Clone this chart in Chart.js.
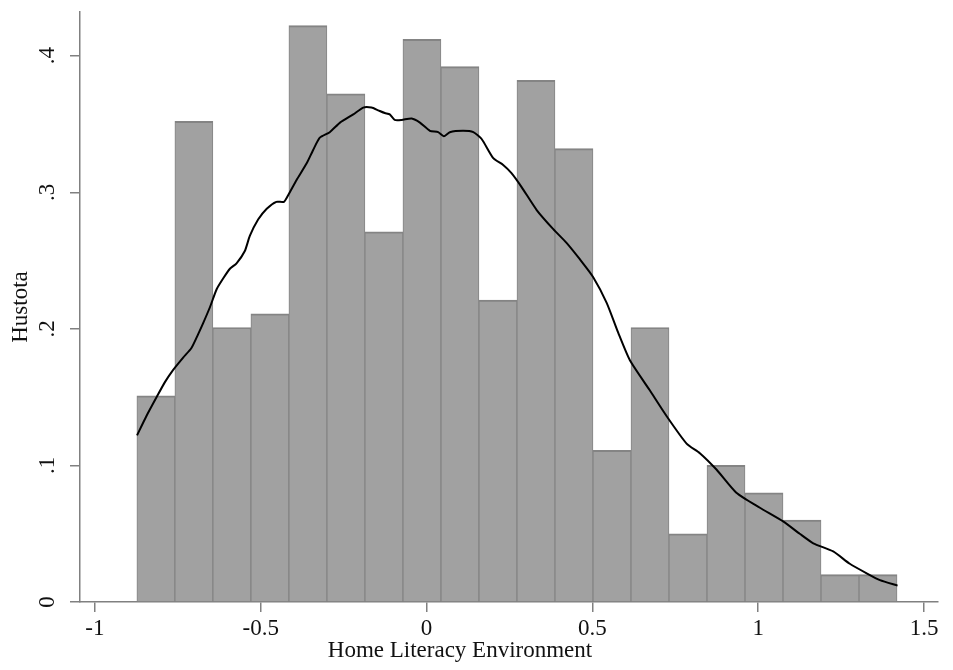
<!DOCTYPE html>
<html>
<head>
<meta charset="utf-8">
<script src="https://cdn.jsdelivr.net/npm/chart.js"></script>
<style>
  body { margin: 0; background: #fff; }
</style>
</head>
<body>
<canvas id="myChart" width="953" height="670"></canvas>
<script>
// histogram: bin midpoints and density heights
var binMids = [-0.8162, -0.7016, -0.5870, -0.4724, -0.3578, -0.2432, -0.1286, -0.0140, 0.1006, 0.2152,
               0.3298, 0.4444, 0.5590, 0.6736, 0.7882, 0.9028, 1.0174, 1.1320, 1.2466, 1.3612];
var density = [0.151, 0.352, 0.201, 0.211, 0.422, 0.372, 0.271, 0.412, 0.392, 0.221,
               0.382, 0.332, 0.111, 0.201, 0.050, 0.100, 0.080, 0.060, 0.020, 0.020];

// kernel density estimate
var kdeX = [-0.873, -0.845, -0.814, -0.789, -0.764, -0.734, -0.709, -0.689, -0.674, -0.653,
            -0.633, -0.613, -0.593, -0.573, -0.548, -0.533, -0.508, -0.482, -0.453, -0.430,
            -0.417, -0.392, -0.362, -0.342, -0.322, -0.292, -0.261, -0.221, -0.191, -0.166,
            -0.146, -0.126, -0.111, -0.096, -0.075, -0.045, -0.020, 0.010, 0.035, 0.052,
            0.070, 0.110, 0.141, 0.166, 0.201, 0.231, 0.256, 0.286, 0.332, 0.382,
            0.422, 0.462, 0.502, 0.543, 0.578, 0.613, 0.673, 0.724, 0.784, 0.824,
            0.874, 0.934, 1.005, 1.075, 1.125, 1.166, 1.226, 1.276, 1.327, 1.367, 1.420];
var kdeY = [0.122, 0.136, 0.150, 0.161, 0.170, 0.179, 0.186, 0.196, 0.204, 0.216,
            0.229, 0.237, 0.244, 0.248, 0.257, 0.268, 0.280, 0.288, 0.293, 0.293,
            0.298, 0.309, 0.321, 0.331, 0.340, 0.344, 0.351, 0.357, 0.362, 0.362,
            0.360, 0.358, 0.357, 0.353, 0.353, 0.354, 0.351, 0.345, 0.344, 0.341,
            0.344, 0.345, 0.344, 0.339, 0.325, 0.320, 0.314, 0.304, 0.287, 0.273,
            0.263, 0.251, 0.238, 0.219, 0.197, 0.177, 0.155, 0.136, 0.116, 0.109,
            0.097, 0.080, 0.069, 0.059, 0.050, 0.043, 0.037, 0.028, 0.021, 0.016, 0.012];

var xTicks = [-1, -0.5, 0, 0.5, 1, 1.5];
var xTickLabels = ['-1', '-0.5', '0', '0.5', '1', '1.5'];
var yTicks = [0, 0.1, 0.2, 0.3, 0.4];
var yTickLabels = ['0', '.1', '.2', '.3', '.4'];

var serif = '"Liberation Serif", "Times New Roman", serif';
var axisGray = '#808080';

// x title sits left of the plot centre, so it is drawn by hand
var xTitlePlugin = {
  id: 'xTitle',
  afterDraw: function(chart) {
    var ctx = chart.ctx;
    ctx.save();
    ctx.font = '23px ' + serif;
    ctx.fillStyle = '#111';
    ctx.textAlign = 'center';
    ctx.textBaseline = 'alphabetic';
    ctx.fillText('Home Literacy Environment', 460, 657);
    ctx.restore();
  }
};

window.onload = function() {
  var ctx = document.getElementById('myChart').getContext('2d');
  new Chart(ctx, {
    type: 'bar',
    data: {
      datasets: [
        {
          type: 'line',
          label: 'kdensity',
          data: kdeX.map(function(x, i) { return {x: x, y: kdeY[i]}; }),
          borderColor: '#000',
          borderWidth: 2,
          pointRadius: 0,
          tension: 0.2,
          fill: false,
          order: 0
        },
        {
          label: 'Hustota',
          data: binMids.map(function(x, i) { return {x: x, y: density[i]}; }),
          backgroundColor: '#a1a1a1',
          borderColor: '#848484',
          borderWidth: {top: 2, left: 1, right: 1, bottom: 0},
          borderSkipped: false,
          barPercentage: 1,
          categoryPercentage: 1,
          order: 1
        }
      ]
    },
    options: {
      responsive: false,
      animation: false,
      devicePixelRatio: 1,
      layout: { padding: {top: 12, right: 15, left: 0, bottom: 0} },
      plugins: {
        legend: { display: false },
        tooltip: { enabled: false }
      },
      scales: {
        x: {
          type: 'linear',
          offset: false,
          min: -1.045,
          max: 1.542,
          afterFit: function(s) { s.height = 68; },
          afterBuildTicks: function(s) { s.ticks = xTicks.map(function(v) { return {value: v}; }); },
          border: { display: true, color: axisGray, width: 1.5 },
          grid: { display: true, offset: false, drawOnChartArea: false, drawTicks: true, tickLength: 10, color: axisGray, lineWidth: 1.5 },
          ticks: {
            padding: 3,
            color: '#111',
            font: { family: serif, size: 23 },
            maxRotation: 0,
            autoSkip: false,
            callback: function(v, i) { return xTickLabels[i]; }
          },
          title: { display: false }
        },
        y: {
          min: 0,
          max: 0.432,
          afterFit: function(s) {
            s.width = 80;
            s.paddingTop = 0;
            s.paddingBottom = 0;
          },
          afterBuildTicks: function(s) { s.ticks = yTicks.map(function(v) { return {value: v}; }); },
          border: { display: true, color: axisGray, width: 1.5 },
          grid: { display: true, drawOnChartArea: false, drawTicks: true, tickLength: 10, color: axisGray, lineWidth: 1.5 },
          ticks: {
            padding: 13,
            minRotation: 90,
            maxRotation: 90,
            crossAlign: 'center',
            color: '#111',
            font: { family: serif, size: 23 },
            autoSkip: false,
            callback: function(v, i) { return yTickLabels[i]; }
          },
          title: {
            display: true,
            text: 'Hustota',
            color: '#111',
            font: { family: serif, size: 23 },
            padding: { top: 7, bottom: 0 }
          }
        }
      }
    },
    plugins: [xTitlePlugin]
  });
};
</script>
</body>
</html>
